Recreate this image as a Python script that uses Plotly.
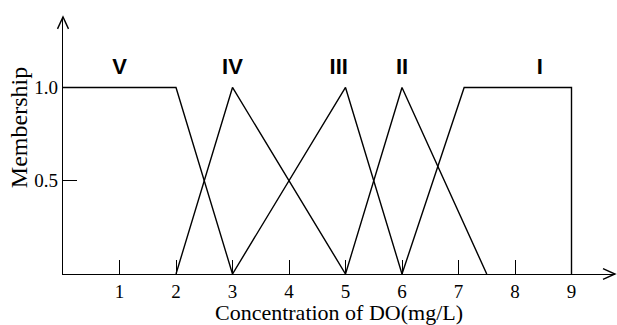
import plotly.graph_objects as go

# Membership functions of DO grades
grade_names = ["V", "IV", "III", "II", "I"]
v_x = [0, 2, 3]
v_y = [1, 1, 0]
iv_x = [2, 3, 5]
iv_y = [0, 1, 0]
iii_x = [3, 5, 6]
iii_y = [0, 1, 0]
ii_x = [5, 6, 7.5]
ii_y = [0, 1, 0]
i_x = [6, 7.1, 9, 9]
i_y = [0, 1, 1, 0]

label_x = [1, 3, 4.88, 6.0, 8.44]
label_y = [1.10, 1.10, 1.10, 1.10, 1.10]

x_ticks = [1, 2, 3, 4, 5, 6, 7, 8, 9]
y_ticks = [0.5, 1.0]
y_tick_text = ["0.5", "1.0"]

fig = go.Figure()
for xs, ys in [(v_x, v_y), (iv_x, iv_y), (iii_x, iii_y), (ii_x, ii_y), (i_x, i_y)]:
    fig.add_trace(go.Scatter(x=xs, y=ys, mode="lines",
                             line=dict(color="black", width=1.4),
                             showlegend=False, hoverinfo="skip"))

fig.add_trace(go.Scatter(x=label_x, y=label_y, mode="text", text=grade_names,
                         textfont=dict(family="Liberation Sans", size=22, color="black"),
                         texttemplate="<b>%{text}</b>",
                         showlegend=False, hoverinfo="skip"))

W, H = 617, 325
L, R, T, B = 63, 2, 17, 49
pw = W - L - R
ph = H - T - B

fig.update_layout(
    width=W, height=H,
    margin=dict(l=L, r=R, t=T, b=B),
    plot_bgcolor="white", paper_bgcolor="white",
    xaxis=dict(range=[0, pw / 56.5], showgrid=False, zeroline=False,
               showline=True, linecolor="black", linewidth=1.4,
               tickmode="array", tickvals=x_ticks,
               ticks="inside", ticklen=14, tickwidth=1.3, tickcolor="black",
               tickfont=dict(family="Liberation Serif", size=19, color="black"),
               title=dict(text="Concentration of DO(mg/L)", standoff=6,
                          font=dict(family="Liberation Serif", size=22, color="black"))),
    yaxis=dict(range=[0, ph / 188.0], showgrid=False, zeroline=False,
               showline=True, linecolor="black", linewidth=1.4,
               tickmode="array", tickvals=y_ticks, ticktext=y_tick_text,
               ticks="inside", ticklen=14, tickwidth=1.3, tickcolor="black",
               tickfont=dict(family="Liberation Serif", size=19, color="black")),
)

# y-axis title
fig.add_annotation(text="Membership", xref="paper", yref="paper",
                   x=(19 - L) / pw, y=(276 - 129) / ph, xanchor="center", yanchor="middle",
                   textangle=-90, showarrow=False,
                   font=dict(family="Liberation Serif", size=24, color="black"))

# arrow heads on axes (open chevrons)
ax_len, ax_half = 12, 5.5
fig.add_shape(type="path", xref="paper", yref="paper",
              path=f"M {1 - ax_len / pw},{ax_half / ph} L 1,0 L {1 - ax_len / pw},{-ax_half / ph}",
              line=dict(color="black", width=1.4))
fig.add_shape(type="path", xref="paper", yref="paper",
              path=f"M {-ax_half / pw},{1 - ax_len / ph} L 0,1 L {ax_half / pw},{1 - ax_len / ph}",
              line=dict(color="black", width=1.4))

fig.write_html("out.html", config={"displayModeBar": False},
               post_script="document.body.style.margin='0';document.body.style.padding='0';")
